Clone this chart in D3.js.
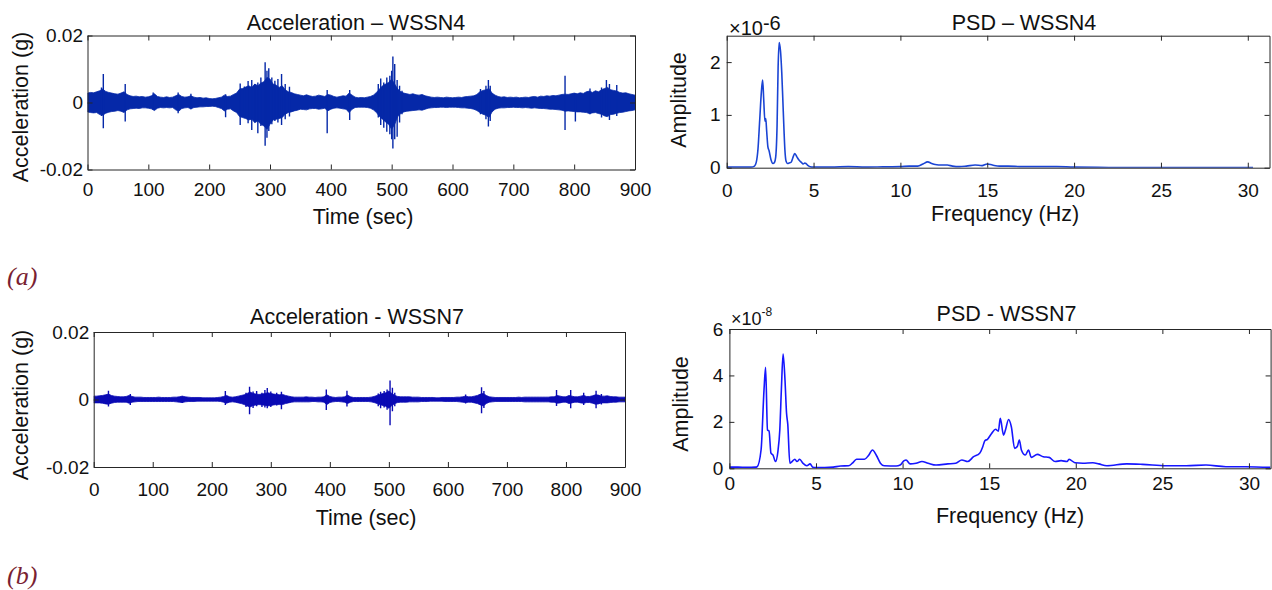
<!DOCTYPE html>
<html><head><meta charset="utf-8">
<script src="https://cdn.jsdelivr.net/npm/d3@7"></script>
<style>
html,body{margin:0;padding:0;background:#fff;}
svg{display:block;font-family:"Liberation Sans",Arial,sans-serif;}
</style></head><body>
<svg id="c" width="1272" height="590"></svg>
<script>
// ---------------- DATA ----------------
// acceleration envelopes (mg), sampled every 5 s from 0 to 900 s
const accTime = d3.range(0, 901, 5);
const acc4Upper = [
 2.8,3.0,2.9,3.2,3.5,4.0,3.3,3.0,2.8,2.6,
 2.5,2.8,3.2,2.4,2.0,1.8,1.9,1.7,1.8,1.6,
 1.7,2.0,2.6,1.8,1.6,1.5,1.7,1.5,1.6,2.0,
 2.4,1.8,1.6,1.7,2.0,1.6,1.4,1.5,1.3,1.4,
 1.2,1.1,1.2,1.4,1.6,2.2,1.8,1.9,2.4,2.8,
 4.0,4.2,4.6,5.0,4.5,5.5,5.0,5.8,6.2,7.5,
 7.0,5.5,5.2,4.5,5.0,3.8,3.2,3.0,2.6,2.4,
 2.2,2.0,2.3,2.0,1.8,1.9,2.2,2.0,1.8,2.4,
 2.2,1.8,1.6,1.8,2.0,1.9,2.8,2.2,1.6,1.4,
 1.5,1.4,1.6,1.8,2.2,3.0,4.0,5.0,5.5,6.0,
 7.0,5.5,4.0,3.2,2.8,2.6,2.4,2.6,2.3,2.2,
 2.4,2.0,1.8,1.6,1.5,1.6,1.5,1.4,1.6,1.5,
 1.4,1.5,1.6,1.5,1.7,1.8,1.9,2.0,2.4,3.2,
 3.6,3.8,4.2,2.8,2.2,1.8,1.6,1.7,1.5,1.6,
 1.5,1.6,1.4,1.5,1.6,1.5,1.7,1.8,1.6,1.9,
 1.8,2.0,1.9,2.1,2.0,2.2,2.4,2.5,2.4,2.6,
 2.8,2.6,2.9,2.7,3.2,3.4,3.0,3.5,3.2,3.8,
 4.2,4.5,3.8,3.6,3.4,3.0,2.8,2.9,2.6,2.4,
 2.2];
const acc4Lower = [
 -2.8,-3.0,-3.1,-3.0,-3.6,-3.8,-3.2,-2.9,-2.7,-2.6,
 -2.4,-2.6,-3.0,-2.2,-1.9,-1.8,-1.7,-1.8,-1.6,-1.6,
 -1.7,-1.9,-2.4,-1.7,-1.5,-1.6,-1.5,-1.6,-1.5,-2.2,
 -2.6,-1.8,-1.6,-1.5,-1.9,-1.5,-1.4,-1.3,-1.3,-1.2,
 -1.2,-1.1,-1.2,-1.5,-1.8,-2.5,-2.0,-1.9,-2.5,-3.0,
 -4.2,-4.5,-4.8,-5.2,-5.0,-6.0,-5.5,-6.5,-7.0,-8.0,
 -6.5,-5.2,-5.0,-4.8,-4.5,-3.5,-3.0,-2.8,-2.5,-2.3,
 -2.0,-2.1,-2.2,-1.9,-1.8,-1.8,-2.0,-1.9,-1.7,-2.5,
 -2.0,-1.7,-1.6,-1.7,-1.9,-2.0,-3.0,-2.0,-1.5,-1.4,
 -1.4,-1.4,-1.5,-1.7,-2.2,-3.0,-4.2,-5.0,-5.8,-6.5,
 -8.0,-6.5,-4.2,-3.3,-2.8,-2.6,-2.5,-2.4,-2.3,-2.2,
 -2.3,-2.0,-1.7,-1.6,-1.5,-1.5,-1.4,-1.4,-1.5,-1.4,
 -1.4,-1.4,-1.5,-1.6,-1.6,-1.7,-1.8,-2.0,-2.4,-3.0,
 -3.5,-3.8,-4.5,-2.8,-2.0,-1.7,-1.6,-1.6,-1.5,-1.5,
 -1.4,-1.5,-1.5,-1.6,-1.5,-1.6,-1.7,-1.6,-1.7,-1.8,
 -1.8,-1.9,-2.0,-2.0,-2.1,-2.2,-2.3,-2.6,-2.5,-2.6,
 -2.7,-2.8,-2.8,-2.9,-3.0,-3.3,-3.1,-3.0,-3.3,-3.5,
 -4.0,-4.2,-3.6,-3.5,-3.2,-3.0,-2.9,-2.7,-2.5,-2.4,
 -2.2];
// individual bursts (s, mg max, mg min)
const spike4Time = [23,26,62,108,149,170,227,251,258,264,270,275,280,285,292,295,298,303,308,313,319,325,332,394,431,478,482,487,492,497,500,502,505,509,513,517,646,655,659,662,785,802,826,845,853,858,870];
const spike4Up   = [4.5,8.5,5.5,3.0,3.0,2.6,2.5,5.7,4.8,6.4,6.7,5.5,6.0,7.5,12.0,9.5,10.2,7.5,6.5,7.0,8.5,5.5,4.7,3.7,3.7,5.5,7.2,6.0,7.5,8.0,9.5,13.7,11.5,6.7,5.0,3.5,4.0,5.0,6.7,5.0,8.0,2.7,4.2,4.5,6.7,5.5,5.2];
const spike4Low  = [-4.0,-7.7,-5.7,-2.2,-3.2,-2.0,-4.4,-6.7,-4.5,-6.2,-8.2,-6.0,-9.2,-7.0,-12.9,-10.5,-8.5,-6.5,-5.5,-6.0,-6.7,-5.0,-4.2,-9.2,-5.2,-4.5,-6.7,-7.5,-8.7,-9.5,-11.0,-13.7,-11.0,-10.2,-6.0,-3.5,-3.5,-5.0,-7.2,-5.5,-8.2,-5.7,-3.5,-4.5,-4.2,-5.2,-4.0];

const acc7Upper = [
 1.0,1.0,1.1,1.2,1.4,1.6,1.2,1.0,0.9,0.8,
 0.8,0.9,1.2,0.9,0.7,0.7,0.7,0.6,0.6,0.6,
 0.6,0.6,0.7,0.6,0.6,0.6,0.6,0.7,0.7,0.8,
 1.0,0.8,0.7,0.6,0.6,0.6,0.6,0.5,0.5,0.5,
 0.5,0.5,0.6,0.7,0.9,1.2,0.8,0.7,0.8,1.0,
 1.2,1.4,1.8,2.2,1.8,1.6,1.5,1.6,1.8,2.0,
 1.8,1.6,1.5,1.4,1.5,1.2,1.0,0.8,0.7,0.7,
 0.7,0.7,0.8,0.7,0.7,0.6,0.7,0.7,0.8,1.4,
 0.9,0.7,0.6,0.7,0.7,0.8,1.3,0.8,0.6,0.6,
 0.6,0.6,0.6,0.6,0.7,0.9,1.2,1.5,1.8,2.0,
 2.5,1.8,1.2,0.9,0.8,0.8,0.8,0.8,0.7,0.7,
 0.7,0.6,0.6,0.6,0.6,0.6,0.5,0.5,0.6,0.6,
 0.6,0.6,0.6,0.7,0.7,0.8,1.0,0.8,0.8,1.0,
 1.2,1.6,1.8,1.2,0.8,0.7,0.6,0.6,0.6,0.6,
 0.6,0.6,0.6,0.6,0.7,0.6,0.7,0.7,0.7,0.7,
 0.7,0.7,0.7,0.7,0.7,0.8,0.8,1.2,1.0,0.8,
 0.8,1.2,1.0,0.8,0.8,1.0,1.2,0.9,0.9,1.1,
 1.4,1.3,1.0,1.0,1.1,0.9,0.8,0.8,0.7,0.7,
 0.7];
const acc7Lower = [
 -1.0,-1.0,-1.0,-1.1,-1.3,-1.4,-1.1,-0.9,-0.8,-0.8,
 -0.8,-0.8,-1.1,-0.8,-0.7,-0.6,-0.6,-0.6,-0.6,-0.6,
 -0.6,-0.6,-0.6,-0.6,-0.6,-0.6,-0.6,-0.6,-0.7,-0.8,
 -0.9,-0.7,-0.6,-0.6,-0.6,-0.5,-0.5,-0.5,-0.5,-0.5,
 -0.5,-0.5,-0.5,-0.6,-0.8,-1.1,-0.8,-0.7,-0.8,-1.0,
 -1.2,-1.5,-1.9,-2.2,-1.8,-1.6,-1.5,-1.6,-1.7,-1.9,
 -1.8,-1.6,-1.5,-1.5,-1.5,-1.2,-1.0,-0.8,-0.7,-0.7,
 -0.7,-0.7,-0.7,-0.7,-0.6,-0.6,-0.7,-0.7,-0.8,-1.5,
 -0.9,-0.7,-0.6,-0.6,-0.7,-0.8,-1.2,-0.8,-0.6,-0.6,
 -0.6,-0.6,-0.6,-0.6,-0.7,-0.9,-1.2,-1.5,-1.8,-2.0,
 -2.6,-1.8,-1.2,-0.9,-0.8,-0.8,-0.8,-0.7,-0.7,-0.7,
 -0.7,-0.6,-0.6,-0.6,-0.5,-0.5,-0.5,-0.5,-0.5,-0.6,
 -0.6,-0.6,-0.6,-0.6,-0.7,-0.8,-0.9,-0.8,-0.8,-1.0,
 -1.2,-1.6,-1.9,-1.2,-0.8,-0.7,-0.6,-0.6,-0.6,-0.6,
 -0.6,-0.6,-0.6,-0.6,-0.6,-0.6,-0.7,-0.7,-0.7,-0.7,
 -0.7,-0.7,-0.7,-0.7,-0.7,-0.8,-0.8,-1.1,-1.0,-0.8,
 -0.8,-1.2,-1.0,-0.8,-0.8,-1.0,-1.1,-0.9,-0.9,-1.1,
 -1.4,-1.3,-1.0,-1.0,-1.0,-0.9,-0.8,-0.8,-0.7,-0.7,
 -0.7];
const spike7Time = [25,62,150,223,258,264,270,276,285,290,294,300,310,318,394,429,482,486,492,497,502,506,510,630,657,661,784,808,830,851,860];
const spike7Up   = [2.6,1.6,1.0,2.5,2.0,3.8,2.4,2.5,2.0,2.8,3.4,2.4,2.0,2.3,3.0,2.6,1.8,2.3,2.5,3.0,5.6,3.5,2.0,1.5,3.6,2.5,2.8,2.8,2.0,2.6,1.6];
const spike7Low  = [-2.1,-1.6,-1.0,-1.6,-2.2,-4.4,-2.5,-2.0,-2.2,-2.4,-2.6,-2.2,-1.8,-2.9,-3.1,-2.1,-2.0,-2.6,-2.4,-3.0,-7.6,-3.5,-2.0,-1.2,-4.1,-2.5,-1.9,-2.6,-1.6,-2.6,-1.5];

// PSD WSSN4 (x1e-6)
const psd4Freq = [0,0.5,1.0,1.4,1.6,1.7,1.8,1.9,2.0,2.07,2.13,2.2,2.25,2.3,2.37,2.44,2.55,2.66,2.75,2.82,2.9,2.96,3.02,3.1,3.17,3.23,3.3,3.35,3.42,3.5,3.6,3.7,3.8,3.92,4.05,4.15,4.3,4.4,4.5,4.56,4.65,4.8,5.0,6,7,8,9,10,10.5,11,11.3,11.57,11.8,12.0,12.4,12.7,13.0,13.4,13.8,14.3,14.7,15.0,15.3,15.7,16.2,17,18,19,20,22,25,28,30.3];
const psd4Amp  = [0.01,0.01,0.01,0.01,0.03,0.1,0.35,0.9,1.45,1.66,1.3,0.88,0.93,0.7,0.4,0.32,0.15,0.08,0.1,0.2,0.8,1.9,2.37,2.2,1.8,1.3,0.7,0.34,0.12,0.08,0.09,0.1,0.18,0.27,0.2,0.15,0.1,0.07,0.09,0.08,0.05,0.02,0.01,0.01,0.02,0.01,0.015,0.02,0.03,0.03,0.07,0.11,0.08,0.06,0.05,0.05,0.03,0.02,0.03,0.05,0.04,0.07,0.05,0.03,0.03,0.02,0.02,0.02,0.01,0.005,0.005,0.005,0.005];
// PSD WSSN7 (x1e-8)
const psd7Freq = [0,0.5,1.0,1.5,1.6,1.83,2.0,2.09,2.2,2.29,2.4,2.52,2.66,2.8,2.91,3.0,3.1,3.21,3.3,3.37,3.49,3.62,3.78,3.9,4.06,4.24,4.47,4.66,4.82,5.0,5.5,6.0,6.42,6.88,7.1,7.34,7.8,8.03,8.26,8.49,8.72,8.94,9.63,9.86,10.09,10.2,10.44,10.78,11.12,11.47,11.93,12.61,13.07,13.42,13.76,14.1,14.45,14.63,14.75,14.9,15.14,15.37,15.53,15.64,15.83,15.94,16.12,16.28,16.47,16.63,16.74,16.86,17.09,17.27,17.43,17.78,18.12,18.46,18.81,19.15,19.5,19.61,19.95,20.41,20.99,21.33,21.79,22.94,23.85,25.23,26.38,27.52,28.67,29.82,31.25];
const psd7Amp  = [0.05,0.05,0.04,0.05,0.07,0.8,3.4,4.35,1.65,1.6,0.65,0.57,0.29,0.72,1.65,3.37,4.92,3.8,2.37,1.9,0.22,0.29,0.39,0.29,0.39,0.22,0.11,0.19,0.04,0.03,0.03,0.05,0.1,0.11,0.22,0.39,0.39,0.55,0.79,0.55,0.22,0.11,0.1,0.14,0.33,0.36,0.19,0.22,0.29,0.22,0.14,0.19,0.22,0.36,0.29,0.5,0.65,0.93,1.19,1.25,1.5,1.68,1.6,2.15,1.43,1.65,2.1,1.79,0.86,0.95,1.22,0.79,0.57,0.79,0.47,0.6,0.5,0.47,0.29,0.33,0.29,0.39,0.24,0.22,0.24,0.19,0.11,0.19,0.17,0.11,0.11,0.14,0.07,0.07,0.04];

// ticks
const accXTicks = [0,100,200,300,400,500,600,700,800,900];
const accYTicks = [-20,0,20];
const accYLabels = ["-0.02","0","0.02"];
const psdXTicks = [0,5,10,15,20,25,30];
const psd4YTicks = [0,1,2];
const psd7YTicks = [0,2,4,6];

// ---------------- DRAW ----------------
const svg = d3.select("#c");
const FR = "#262626";

function makePanel(o){
  const g = svg.append("g");
  const x = d3.scaleLinear().domain(o.xd).range([o.l, o.r]);
  const y = d3.scaleLinear().domain(o.yd).range([o.b, o.t]);
  const id = "clip" + Math.random().toString(36).slice(2);
  svg.append("clipPath").attr("id", id).append("rect")
    .attr("x", o.l).attr("y", o.t).attr("width", o.r - o.l).attr("height", o.b - o.t);
  const data = g.append("g").attr("clip-path", `url(#${id})`);
  return {g, x, y, data, o};
}

function drawAxes(p, xt, yt, yfmt){
  const {g, x, y, o} = p;
  const ax = g.append("g").attr("class","axes");
  const styleAx = sel => {
    sel.selectAll("path.domain").attr("stroke", FR).attr("stroke-width", 1);
    sel.selectAll(".tick line").attr("stroke", FR).attr("stroke-width", 1);
    sel.selectAll(".tick text").attr("fill", "#111").style("font-size", "19px")
      .style("font-family", '"Liberation Sans", Arial, sans-serif');
  };
  ax.append("g").attr("transform", `translate(0,${o.b})`)
    .call(d3.axisBottom(x).tickValues(xt).tickSize(-5).tickSizeOuter(0).tickPadding(o.xpad))
    .call(styleAx);
  ax.append("g").attr("transform", `translate(0,${o.t})`)
    .call(d3.axisTop(x).tickValues(xt).tickSize(-5).tickSizeOuter(0).tickFormat(""))
    .call(styleAx);
  ax.append("g").attr("transform", `translate(${o.l},0)`)
    .call(d3.axisLeft(y).tickValues(yt).tickSize(-5).tickSizeOuter(0).tickPadding(o.ypad).tickFormat(yfmt))
    .call(styleAx);
  ax.append("g").attr("transform", `translate(${o.r},0)`)
    .call(d3.axisRight(y).tickValues(yt).tickSize(-5).tickSizeOuter(0).tickFormat(""))
    .call(styleAx);
  ax.selectAll("g").attr("font-family", null).attr("font-size", null);
}

function text(x, y, s, opts = {}){
  const t = svg.append("text").attr("x", x).attr("y", y).text(s)
    .attr("text-anchor", opts.anchor || "middle")
    .style("font-size", (opts.size || 21.5) + "px")
    .attr("fill", opts.fill || "#111");
  if (opts.rot) t.attr("transform", `rotate(-90,${x},${y})`);
  if (opts.family) t.style("font-family", opts.family);
  if (opts.italic) t.style("font-style", "italic");
  return t;
}

function drawAcc(p, up, low, st, su, sl, color){
  const {x, y, data} = p;
  const area = d3.area()
    .x((d, i) => x(accTime[i]))
    .y0((d, i) => y(low[i]))
    .y1((d, i) => y(up[i]));
  data.append("path").datum(up).attr("d", area).attr("fill", color)
    .attr("stroke", color).attr("stroke-width", 0.8);
  data.selectAll("line.sp").data(st).join("line").attr("class","sp")
    .attr("x1", d => x(d)).attr("x2", d => x(d))
    .attr("y1", (d, i) => y(su[i])).attr("y2", (d, i) => y(sl[i]))
    .attr("stroke", color).attr("stroke-width", 1.4);
}

function drawPsd(p, f, a, color){
  const {x, y, data} = p;
  const line = d3.line().x((d, i) => x(f[i])).y(d => y(d)).curve(d3.curveMonotoneX);
  data.append("path").datum(a).attr("d", line).attr("fill", "none")
    .attr("stroke", color).attr("stroke-width", 1.6).attr("stroke-linejoin","round");
}

const accFmt = d => accYLabels[accYTicks.indexOf(d)];

// Panel 1: Acceleration WSSN4
const p1 = makePanel({xd:[0,900], yd:[-20,20], l:87.5, r:635, t:35.5, b:169.5, xpad:13.5, ypad:4.5});
drawAcc(p1, acc4Upper, acc4Lower, spike4Time, spike4Up, spike4Low, "#0528a8");
drawAxes(p1, accXTicks, accYTicks, accFmt);
text(356, 29.5, "Acceleration \u2013 WSSN4");
text(363, 224, "Time (sec)");
text(28, 107, "Acceleration (g)", {rot:true});

// Panel 2: PSD WSSN4
const p2 = makePanel({xd:[0,31.25], yd:[0,2.5], l:726.7, r:1269.5, t:35.7, b:167.7, xpad:15.5, ypad:6});
drawPsd(p2, psd4Freq, psd4Amp, "#1a44d4");
drawAxes(p2, psdXTicks, psd4YTicks, d => String(d));
text(1024, 30, "PSD \u2013 WSSN4");
text(1005, 220.5, "Frequency (Hz)");
text(686, 100, "Amplitude", {rot:true});
const e1 = svg.append("text").attr("x", 729).attr("y", 35).attr("fill", "#111").style("font-size","20px");
e1.append("tspan").text("\u00d710");
e1.append("tspan").attr("dy", -5).text("-6");

// Panel 3: Acceleration WSSN7
const p3 = makePanel({xd:[0,900], yd:[-20,20], l:93.7, r:625, t:332, b:467, xpad:16, ypad:4.5});
drawAcc(p3, acc7Upper, acc7Lower, spike7Time, spike7Up, spike7Low, "#0a0ab4");
drawAxes(p3, accXTicks, accYTicks, accFmt);
text(357, 323.5, "Acceleration - WSSN7");
text(366, 525, "Time (sec)");
text(28, 405, "Acceleration (g)", {rot:true});

// Panel 4: PSD WSSN7
const p4 = makePanel({xd:[0,31.25], yd:[0,6], l:729.4, r:1270.6, t:329, b:468.3, xpad:8.5, ypad:6});
drawPsd(p4, psd7Freq, psd7Amp, "#1616ff");
drawAxes(p4, psdXTicks, psd7YTicks, d => String(d));
text(1006.5, 321, "PSD - WSSN7");
text(1010, 523, "Frequency (Hz)");
text(688, 404, "Amplitude", {rot:true});
const e2 = svg.append("text").attr("x", 731).attr("y", 325).attr("fill", "#111").style("font-size","18px");
e2.append("tspan").text("\u00d710");
e2.append("tspan").attr("dy", -9).style("font-size","12px").text("-8");

// sub-figure labels
text(7, 285, "(a)", {anchor:"start", size:26, family:'"Liberation Serif", serif', italic:true, fill:"#7a1f33"});
text(7, 584, "(b)", {anchor:"start", size:26, family:'"Liberation Serif", serif', italic:true, fill:"#7a1f33"});
</script></body></html>
